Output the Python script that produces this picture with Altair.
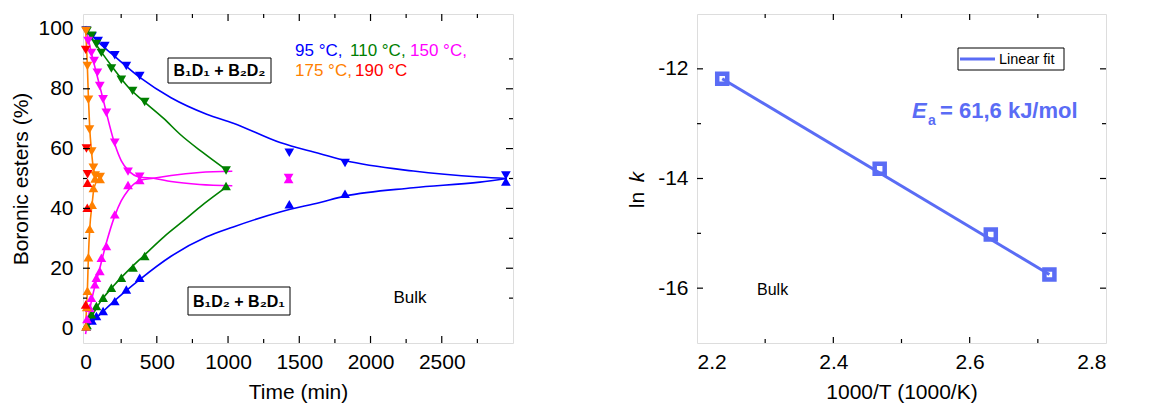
import altair as alt
import pandas as pd

FONT = "Liberation Sans"

# ---------------- left panel: data ----------------
temps = ["95", "110", "150", "175", "190"]
temp_colors = ["#0000ff", "#008000", "#ff00ff", "#ff8000", "#ff0000"]

# points: B1D1 + B2D2 (down triangles) and B1D2 + B2D1 (up triangles)
blue_dn_t = [5, 45, 88, 135, 205, 286, 380, 1430, 1821, 2950]
blue_dn_v = [99.5, 97.5, 96, 94.3, 91.2, 87.6, 84.3, 58.6, 55.2, 51.0]
blue_up_t = [5, 45, 76, 123, 205, 286, 380, 1430, 1821, 2950]
blue_up_v = [0.5, 2.5, 4.0, 5.7, 9.0, 12.9, 16.8, 41.4, 44.9, 49.0]

green_dn_t = [10, 43, 76, 111, 181, 251, 330, 415, 986]
green_dn_v = [99.3, 97.7, 95.0, 92.0, 86.8, 83.0, 79.3, 75.6, 52.7]
green_up_t = [10, 41, 76, 123, 181, 251, 333, 415, 986]
green_up_v = [1.0, 4.6, 7.4, 10.1, 13.5, 16.8, 20.2, 24.1, 47.5]

mag_dn_t = [18, 41, 60, 83, 100, 123, 146, 205, 298, 380, 1425]
mag_dn_v = [96, 92, 89.3, 85.4, 80.9, 76.5, 72, 62, 52.3, 50.6, 50.2]
mag_up_t = [10, 29, 41, 65, 76, 100, 111, 146, 205, 298, 380, 1425]
mag_up_v = [3, 6.8, 10.1, 14.6, 16.8, 19.1, 23.5, 27.4, 38, 47.8, 49.5, 49.8]

org_dn_t = [3, 13, 20, 27, 43, 55, 67, 102]
org_dn_v = [99.3, 87.6, 76.3, 66.4, 59.0, 53.6, 51.0, 50.5]
org_up_t = [3, 8, 13, 20, 29, 46, 55, 67, 102]
org_up_v = [0.5, 7.0, 12.5, 23.7, 33.2, 41.2, 46.8, 50.0, 49.8]

red_dn_t = [1, 6, 14]
red_dn_v = [93.0, 60.0, 51.4]
red_up_t = [1, 12, 14]
red_up_v = [7.9, 40.2, 48.6]

# fitted curves
blue_cdn_t = [0, 100, 200, 383, 600, 850, 1037, 1365, 1646, 1821, 2300, 2768, 2956]
blue_cdn_v = [100, 95.2, 91.0, 83.7, 77.0, 71.5, 68.5, 62.0, 58.3, 56.0, 52.5, 50.5, 50.0]
blue_cup_t = [0, 100, 200, 382, 600, 850, 1037, 1365, 1646, 1821, 2300, 2768, 2956]
blue_cup_v = [0, 4.5, 9.0, 16.3, 24.0, 30.5, 33.8, 38.8, 42.0, 44.1, 46.9, 48.8, 50.0]

green_cdn_t = [0, 100, 200, 300, 406, 550, 663, 820, 990]
green_cdn_v = [100, 93.0, 86.5, 80.5, 75.9, 70.0, 64.8, 58.8, 52.8]
green_cup_t = [0, 100, 200, 300, 406, 550, 686, 830, 990]
green_cup_v = [0, 8.5, 14.3, 19.3, 24.1, 30.5, 35.8, 41.5, 47.2]

mag_cdn_t = [0, 41, 83, 123, 146, 205, 250, 298, 380, 476, 600, 800, 1030]
mag_cdn_v = [101, 92, 84, 76.5, 72, 61.5, 56, 52.8, 50.5, 50.1, 49.0, 48.0, 47.6]
mag_cup_t = [0, 41, 100, 146, 205, 250, 298, 380, 476, 600, 800, 1030]
mag_cup_v = [-2, 9, 20, 28.5, 37.5, 42.5, 46, 49.3, 50.1, 51.0, 52.0, 52.4]

org_cdn_t = [0, 13, 20, 29, 41, 55, 75, 110]
org_cdn_v = [100, 87, 77, 67, 59.5, 53.5, 51, 50.3]
org_cup_t = [0, 8, 13, 20, 29, 46, 60, 90, 110]
org_cup_v = [0, 8, 13, 24, 33, 41.5, 47, 49.8, 50.3]

# ---------------- right panel: data ----------------
inv_T = [2.237, 2.468, 2.631, 2.717]
ln_k = [-12.18, -13.82, -15.02, -15.75]
fit_x = [2.237, 2.717]
fit_y = [-12.18, -15.75]
FIT_COLOR = "#5a6cf5"

# ---------------- build tables ----------------
pts_rows = []
series_pts = [
    ("95", blue_dn_t, blue_dn_v, blue_up_t, blue_up_v),
    ("110", green_dn_t, green_dn_v, green_up_t, green_up_v),
    ("150", mag_dn_t, mag_dn_v, mag_up_t, mag_up_v),
    ("175", org_dn_t, org_dn_v, org_up_t, org_up_v),
    ("190", red_dn_t, red_dn_v, red_up_t, red_up_v),
]
order = 0
for temp, dt, dv, ut, uv in series_pts:
    for t, v in zip(dt, dv):
        pts_rows.append({"t": t, "v": v, "temp": temp, "kind": "down", "o": order})
        order += 1
    for t, v in zip(ut, uv):
        pts_rows.append({"t": t, "v": v, "temp": temp, "kind": "up", "o": order})
        order += 1
pts = pd.DataFrame(pts_rows)

curve_rows = []
series_curves = [
    ("95", "dn", blue_cdn_t, blue_cdn_v), ("95", "up", blue_cup_t, blue_cup_v),
    ("110", "dn", green_cdn_t, green_cdn_v), ("110", "up", green_cup_t, green_cup_v),
    ("150", "dn", mag_cdn_t, mag_cdn_v), ("150", "up", mag_cup_t, mag_cup_v),
    ("175", "dn", org_cdn_t, org_cdn_v), ("175", "up", org_cup_t, org_cup_v),
]
for temp, d, ts, vs in series_curves:
    for t, v in zip(ts, vs):
        curve_rows.append({"t": t, "v": v, "temp": temp, "key": temp + d})
curves = pd.DataFrame(curve_rows)

LW, LH = 430, 329
RW, RH = 409, 329

xL = alt.Scale(domain=[-18, 3000], nice=False, zero=False)
yL = alt.Scale(domain=[-5, 105], nice=False, zero=False)
xR = alt.Scale(domain=[2.2, 2.8], nice=False, zero=False)
yR = alt.Scale(domain=[-17, -11], nice=False, zero=False)
cscale = alt.Scale(domain=temps, range=temp_colors)


def label(txt, x, y, size, color="black", weight="normal", italic=False,
          align="left", baseline="middle", angle=0):
    kw = dict(align=align, baseline=baseline, fontSize=size, color=color,
              fontWeight=weight, font=FONT)
    if italic:
        kw["fontStyle"] = "italic"
    if angle:
        kw["angle"] = angle
    return alt.Chart(pd.DataFrame({"txt": [txt]})).mark_text(**kw).encode(
        x=alt.value(x), y=alt.value(y), text="txt:N")


def box(x1, y1, x2, y2, stroke="black", sw=1.0):
    return alt.Chart(pd.DataFrame({"b": [1]})).mark_rect(
        fill="white", stroke=stroke, strokeWidth=sw).encode(
        x=alt.value(x1), x2=alt.value(x2), y=alt.value(y1), y2=alt.value(y2))


def ticks(xs, ys, xscale, yscale, W, H, L):
    layers = []
    if xs:
        d = pd.DataFrame({"p": xs})
        base = alt.Chart(d).mark_rule(color="black", strokeWidth=1.2)
        layers.append(base.encode(x=alt.X("p:Q", scale=xscale), y=alt.value(0), y2=alt.value(L)))
        layers.append(base.encode(x=alt.X("p:Q", scale=xscale), y=alt.value(H), y2=alt.value(H - L)))
    if ys:
        d = pd.DataFrame({"p": ys})
        base = alt.Chart(d).mark_rule(color="black", strokeWidth=1.2)
        layers.append(base.encode(y=alt.Y("p:Q", scale=yscale), x=alt.value(0), x2=alt.value(L)))
        layers.append(base.encode(y=alt.Y("p:Q", scale=yscale), x=alt.value(W), x2=alt.value(W - L)))
    return layers


axis_common = dict(ticks=False, domain=False, grid=False, labelFont=FONT, labelFontSize=21,
                   labelColor="black", titleFont=FONT, titleFontSize=21,
                   titleFontWeight="normal", titleColor="black")

lines_L = alt.Chart(curves).mark_line(strokeWidth=1.6, interpolate="monotone").encode(
    x=alt.X("t:Q", scale=xL, axis=alt.Axis(values=[0, 500, 1000, 1500, 2000, 2500], format="d",
                                            labelPadding=8, titlePadding=9, title="Time (min)",
                                            **axis_common)),
    y=alt.Y("v:Q", scale=yL, axis=alt.Axis(values=[0, 20, 40, 60, 80, 100], labelPadding=10,
                                            titlePadding=6, title="Boronic esters (%)",
                                            **axis_common)),
    color=alt.Color("temp:N", scale=cscale, legend=None),
    detail="key:N",
)

points_L = alt.Chart(pts).mark_point(filled=True, size=95, opacity=1, strokeWidth=0).encode(
    x=alt.X("t:Q", scale=xL),
    y=alt.Y("v:Q", scale=yL),
    color=alt.Color("temp:N", scale=cscale, legend=None),
    shape=alt.Shape("kind:N", scale=alt.Scale(domain=["down", "up"],
                                                range=["triangle-down", "triangle-up"]), legend=None),
    order="o:Q",
)

left_layers = [lines_L, points_L]
left_layers += ticks([250, 750, 1250, 1750, 2250, 2750], [10, 30, 50, 70, 90], xL, yL, LW, LH, 4)
left_layers += ticks([500, 1000, 1500, 2000, 2500], [20, 40, 60, 80], xL, yL, LW, LH, 7)
left_layers += [
    box(85, 44, 188, 69),
    label("B\u2081D\u2081 + B\u2082D\u2082", 136.5, 57, 16, weight="bold", align="center"),
    box(105, 273, 207, 301),
    label("B\u2081D\u2082 + B\u2082D\u2081", 156, 288, 16, weight="bold", align="center"),
    label("95 \u00b0C,", 212, 37, 17, color=temp_colors[0]),
    label("110 \u00b0C,", 267, 37, 17, color=temp_colors[1]),
    label("150 \u00b0C,", 327, 37, 17, color=temp_colors[2]),
    label("175 \u00b0C,", 212, 57, 17, color=temp_colors[3]),
    label("190 \u00b0C", 272, 57, 17, color=temp_colors[4]),
    label("Bulk", 327, 284, 17, align="center"),
]
left = alt.layer(*left_layers).properties(width=LW, height=LH)

# ---------------- right panel ----------------
arr = pd.DataFrame({"x": inv_T, "y": ln_k})
fit = pd.DataFrame({"x": fit_x, "y": fit_y})

fit_line = alt.Chart(fit).mark_line(color=FIT_COLOR, strokeWidth=3).encode(
    x=alt.X("x:Q", scale=xR, axis=alt.Axis(values=[2.2, 2.4, 2.6, 2.8], format=".1f",
                                           labelPadding=8, titlePadding=9,
                                           title="1000/T (1000/K)", **axis_common)),
    y=alt.Y("y:Q", scale=yR, axis=alt.Axis(values=[-16, -14, -12], labelExpr="'' + datum.value",
                                           labelPadding=9, title=None, **axis_common)),
)
squares = alt.Chart(arr).mark_point(shape="square", filled=False, size=100, strokeWidth=4.5,
                                    color=FIT_COLOR, opacity=1).encode(
    x=alt.X("x:Q", scale=xR), y=alt.Y("y:Q", scale=yR))

right_layers = [fit_line, squares]
right_layers += ticks([2.3, 2.5, 2.7], [-15, -13], xR, yR, RW, RH, 4)
right_layers += ticks([2.4, 2.6], [-16, -14, -12], xR, yR, RW, RH, 6)
right_layers += [
    box(261, 34, 367, 56),
    alt.Chart(pd.DataFrame({"b": [1]})).mark_rule(color=FIT_COLOR, strokeWidth=3).encode(
        x=alt.value(263), x2=alt.value(298), y=alt.value(45)),
    label("Linear fit", 302, 45.5, 14.5),
    label("E", 215, 103.5, 22, color=FIT_COLOR, weight="bold", italic=True, baseline="alphabetic"),
    label("a", 231, 111, 14, color=FIT_COLOR, weight="bold", baseline="alphabetic"),
    label("= 61,6 kJ/mol", 243, 103.5, 22, color=FIT_COLOR, weight="bold", baseline="alphabetic"),
    label("Bulk", 60, 275.5, 16),
    label("ln", -59, 186, 21, angle=270, align="center"),
    label("k", -59, 163, 21, angle=270, align="center", italic=True),
]
right = alt.layer(*right_layers).properties(width=RW, height=RH)

chart = alt.hconcat(left, right, spacing=184).properties(
    bounds="flush", padding={"left": 2, "top": 4, "right": 5, "bottom": 2}
).configure_view(stroke="black", strokeWidth=1.3).configure(background="white")

chart.save("out.html", embed_options={"renderer": "svg", "actions": False})
